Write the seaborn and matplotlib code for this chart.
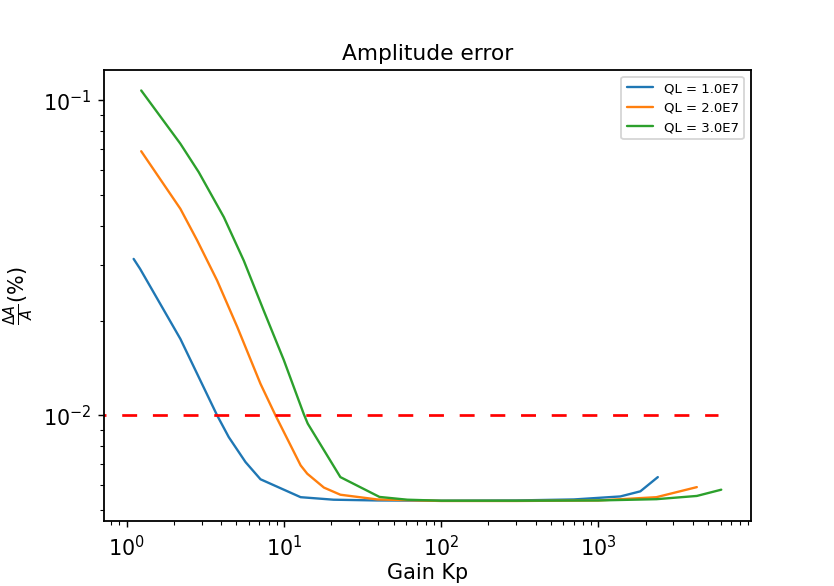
import matplotlib
matplotlib.use("Agg")
import matplotlib.pyplot as plt
import seaborn as sns
import pandas as pd

# ---- data ----
blue_x = [1.11, 1.22, 2.20, 3.77, 4.47, 5.71, 7.11, 12.8, 20.7, 39, 100, 300, 700, 1380, 1850, 2390]
blue_y = [0.0314, 0.0292, 0.0175, 0.0100, 0.00853, 0.00711, 0.00627, 0.00550, 0.00540, 0.00537,
          0.00536, 0.00537, 0.00541, 0.00553, 0.00574, 0.00637]

orange_x = [1.24, 2.20, 2.81, 3.77, 5.06, 7.11, 8.86, 12.8, 14.1, 18.0, 22.9, 39.3, 100, 300, 1000, 2340, 4230]
orange_y = [0.0690, 0.0453, 0.0360, 0.0268, 0.0191, 0.0126, 0.0100, 0.00694, 0.00653, 0.00590,
            0.00560, 0.00541, 0.00535, 0.00535, 0.00537, 0.00550, 0.00592]

green_x = [1.24, 2.20, 2.88, 4.16, 5.57, 7.46, 10.0, 13.4, 14.2, 22.9, 40.6, 60.9, 100, 300, 1000, 2340, 4230, 6050]
green_y = [0.1076, 0.0729, 0.0592, 0.0426, 0.0310, 0.0215, 0.0150, 0.0101, 0.00942, 0.00637,
           0.00551, 0.00540, 0.00536, 0.00536, 0.00537, 0.00542, 0.00555, 0.00581]

series_labels = ["QL = 1.0E7", "QL = 2.0E7", "QL = 3.0E7"]
series_colors = ["#1f77b4", "#ff7f0e", "#2ca02c"]

threshold = 0.01
threshold_end = 5740

title = "Amplitude error"
xlabel = "Gain Kp"
ylabel = r"$\frac{\Delta A}{A}$(%)"

# ---- plot ----
sns.set_style("ticks")
plt.rcParams["font.family"] = ["DejaVu Sans"]
plt.rcParams["axes.linewidth"] = 1.0
for key in ["text.color", "axes.labelcolor", "xtick.color", "ytick.color",
            "xtick.labelcolor", "ytick.labelcolor", "axes.edgecolor"]:
    plt.rcParams[key] = "black"

fig, ax = plt.subplots(figsize=(6.4, 4.5), dpi=130.32)
fig.subplots_adjust(left=0.125, right=0.9, top=0.88, bottom=0.11)

for xs, ys, lab, col in zip([blue_x, orange_x, green_x],
                            [blue_y, orange_y, green_y],
                            series_labels, series_colors):
    df = pd.DataFrame({"x": xs, "y": ys})
    sns.lineplot(data=df, x="x", y="y", ax=ax, color=col, label=lab,
                 linewidth=1.3, sort=False, estimator=None)

ax.set_xscale("log")
ax.set_yscale("log")
lims = ax.get_xlim()
ylims = ax.get_ylim()
ax.hlines(threshold, lims[0] / 10, threshold_end, colors="red",
          linestyles=(0, (5.5, 5.8)), linewidth=1.5)
ax.set_xlim(lims)
ax.set_ylim(ylims)

for s in ax.spines.values():
    s.set_visible(True)
    s.set_color("black")

ax.set_title(title, fontsize=12, color="black")
ax.set_xlabel(xlabel, fontsize=11.5, labelpad=2, color="black")
ax.set_ylabel(ylabel, fontsize=11.5, color="black")
ax.tick_params(axis="both", which="major", labelsize=11.5, direction="out",
               color="black", labelcolor="black")
ax.tick_params(axis="both", which="minor", direction="out", color="black")
leg = ax.legend(loc="upper right", fontsize=7.3, frameon=True)
for t in leg.get_texts():
    t.set_color("black")

fig.savefig("out.png", dpi=130.32)
